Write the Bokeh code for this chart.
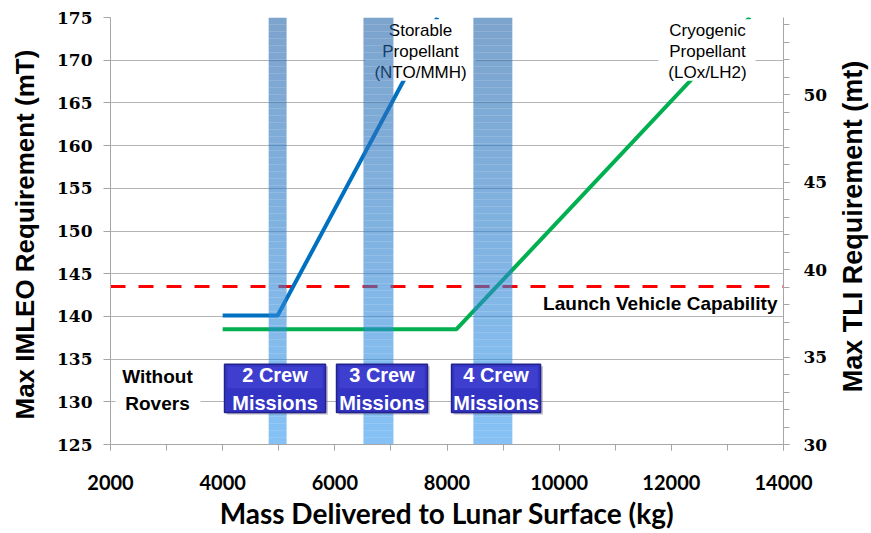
import numpy as np
from bokeh.plotting import figure
from bokeh.layouts import row
from bokeh.models import Range1d, LinearAxis, FixedTicker
from bokeh.core.properties import value
from bokeh.embed import file_html
from bokeh.resources import INLINE

# ---------------- data ----------------
mass_storable = [4000, 4980, 7830]
imleo_storable = [140.1, 140.1, 175.0]
mass_cryo = [4000, 8170, 13400]
imleo_cryo = [138.5, 138.5, 175.0]
lv_capability = 143.5
band_start = [4820, 6510, 8470]
band_end = [5140, 7045, 9165]
crew_labels = ["2 Crew\nMissions", "3 Crew\nMissions", "4 Crew\nMissions"]
x_ticks = [2000, 4000, 6000, 8000, 10000, 12000, 14000]
x_minor = [2000, 3000, 4000, 5000, 6000, 7000, 8000, 9000, 10000, 11000, 12000, 13000, 14000]
imleo_ticks = [125, 130, 135, 140, 145, 150, 155, 160, 165, 170, 175]
tli_ticks = [30, 35, 40, 45, 50]
tli_minor = list(range(30, 55))

AX = "#a6a6a6"
GRID = "#b4b4b4"
SERIF = "DejaVu Serif"

MAIN_W = 835
p = figure(width=MAIN_W, height=533, x_range=Range1d(2000, 14000), y_range=Range1d(125, 175),
           output_backend="svg", toolbar_location=None,
           min_border_left=110, min_border_right=52, min_border_top=17, min_border_bottom=89)
p.outline_line_color = None
p.background_fill_color = "white"
p.border_fill_color = "white"
p.extra_y_ranges = {"tli": Range1d(30, 54.4)}

# x axis
xa = p.xaxis[0]
xa.ticker = FixedTicker(ticks=x_ticks, minor_ticks=x_minor)
xa.axis_line_color = AX
xa.major_tick_line_color = AX
xa.minor_tick_line_color = AX
xa.major_tick_out = 6
xa.major_tick_in = 0
xa.minor_tick_out = 6
xa.minor_tick_in = 0
xa.major_label_text_font = "Lato"
xa.major_label_text_font_style = "bold"
xa.major_label_text_font_size = "20px"
xa.major_label_text_color = "black"
xa.major_label_standoff = 24
xa.axis_label = "Mass Delivered to Lunar Surface (kg)"
xa.axis_label_text_font = "Lato"
xa.axis_label_text_font_style = "bold"
xa.axis_label_text_font_size = "28px"
xa.axis_label_text_color = "black"
xa.axis_label_standoff = 3

# left axis
ya = p.yaxis[0]
ya.ticker = FixedTicker(ticks=imleo_ticks, minor_ticks=[])
ya.axis_line_color = AX
ya.major_tick_line_color = AX
ya.major_tick_out = 7
ya.major_tick_in = 0
ya.minor_tick_out = 0
ya.minor_tick_in = 0
ya.major_label_text_font = SERIF
ya.major_label_text_font_style = "bold"
ya.major_label_text_font_size = "17px"
ya.major_label_text_color = "black"
ya.major_label_standoff = 11
ya.axis_label = "Max IMLEO Requirement  (mT)"
ya.axis_label_text_font = "Liberation Sans"
ya.axis_label_text_font_style = "bold"
ya.axis_label_text_font_size = "26px"
ya.axis_label_text_color = "black"
ya.axis_label_standoff = 14

# right axis
ra = LinearAxis(y_range_name="tli", ticker=FixedTicker(ticks=tli_ticks, minor_ticks=tli_minor))
ra.axis_line_color = AX
ra.major_tick_line_color = AX
ra.minor_tick_line_color = AX
ra.major_tick_out = 6
ra.major_tick_in = 0
ra.minor_tick_out = 6
ra.minor_tick_in = 0
ra.major_label_text_font = SERIF
ra.major_label_text_font_style = "bold"
ra.major_label_text_font_size = "17px"
ra.major_label_text_color = "black"
ra.major_label_standoff = 14
p.add_layout(ra, "right")

p.xgrid.visible = False
p.ygrid.ticker = FixedTicker(ticks=imleo_ticks)
p.ygrid.grid_line_color = GRID
p.ygrid.grid_line_width = 1

# red launch vehicle line
p.line([x_ticks[0], x_ticks[-1]], [lv_capability, lv_capability], line_color="#FF0000",
       line_width=3, line_dash="15 13")

# performance lines
p.line(mass_storable, imleo_storable, line_color="#0070C0", line_width=4)
p.line(mass_cryo, imleo_cryo, line_color="#00B050", line_width=4)

# white label boxes
p.quad(left=[6547, 11771, 2089], right=[8508, 13501, 3605],
       bottom=[167.6, 167.6, 128.75], top=[174.8, 174.8, 134.1],
       fill_color="white", line_color=None)

txt = dict(text_align="center", text_baseline="middle", text_color="black")
p.text(x=[7528, 12645], y=[171.0, 171.0],
       text=["Storable\nPropellant\n(NTO/MMH)", "Cryogenic\nPropellant\n(LOx/LH2)"],
       text_font=value("Liberation Sans"), text_font_size="17px", text_line_height=1.12, **txt)
p.text(x=[2838], y=[131.38], text=["Without\nRovers"], text_font=value("Liberation Sans"),
       text_font_style="bold", text_font_size="19px", text_line_height=1.3, **txt)
p.text(x=[13893], y=[141.5], text=["Launch Vehicle Capability"], text_font=value("Liberation Sans"),
       text_font_style="bold", text_font_size="19px", text_align="right", text_baseline="middle",
       text_color="black")

# gradient translucent bands (slices aligned to whole pixels: 61 slices x 7 px)
top_c = np.array([37, 102, 170])
bot_c = np.array([52, 152, 238])
n = 61
edges = np.linspace(125, 175, n + 1)
L, R, B, T, C = [], [], [], [], []
for s, e in zip(band_start, band_end):
    for i in range(n):
        f = (edges[i] - 125) / 50.0
        c = bot_c + (top_c - bot_c) * f
        L.append(s); R.append(e); B.append(edges[i]); T.append(edges[i + 1])
        C.append("#%02x%02x%02x" % tuple(int(round(v)) for v in c))
p.quad(left=L, right=R, bottom=B, top=T, fill_color=C, fill_alpha=0.6, line_color=None)

# crew boxes
bx_l = [4033, 6030, 8081]
bx_r = [5834, 7652, 9668]
by_b, by_t = 128.75, 134.4
p.quad(left=[v + 40 for v in bx_l], right=[v + 40 for v in bx_r], bottom=[by_b - 0.25] * 3,
       top=[by_t - 0.25] * 3, fill_color="#606080", fill_alpha=0.45, line_color=None)
p.quad(left=bx_l, right=bx_r, bottom=[by_b] * 3, top=[by_t] * 3,
       fill_color="#3434c4", line_color="#22228a", line_width=1.5)
p.quad(left=[v + 50 for v in bx_l], right=[v - 50 for v in bx_r], bottom=[131.6] * 3,
       top=[by_t - 0.3] * 3, fill_color="#3f3fcf", line_color=None)
p.text(x=[(a + b) / 2 for a, b in zip(bx_l, bx_r)], y=[131.5] * 3, text=crew_labels,
       text_font=value("Liberation Sans"), text_font_style="bold", text_font_size="20px",
       text_line_height=1.25, text_align="center", text_baseline="middle", text_color="white")

# right-hand axis title panel (reads bottom to top)
SIDE_W = 871 - MAIN_W
side = figure(width=SIDE_W, height=533, x_range=Range1d(0, SIDE_W), y_range=Range1d(0, 533),
              output_backend="svg", toolbar_location=None, x_axis_type=None, y_axis_type=None,
              min_border=0, min_border_left=0, min_border_right=0, min_border_top=0,
              min_border_bottom=0)
side.grid.visible = False
side.outline_line_color = None
side.border_fill_color = "white"
side.background_fill_color = "white"
side.text(x=[17], y=[272], text=["Max TLI Requirement (mt)"], angle=np.pi / 2,
          text_font=value("Liberation Sans"), text_font_style="bold", text_font_size="27px",
          text_align="center", text_baseline="middle", text_color="black")

layout = row(p, side, spacing=0)
open("out.html", "w").write(file_html(layout, INLINE))
